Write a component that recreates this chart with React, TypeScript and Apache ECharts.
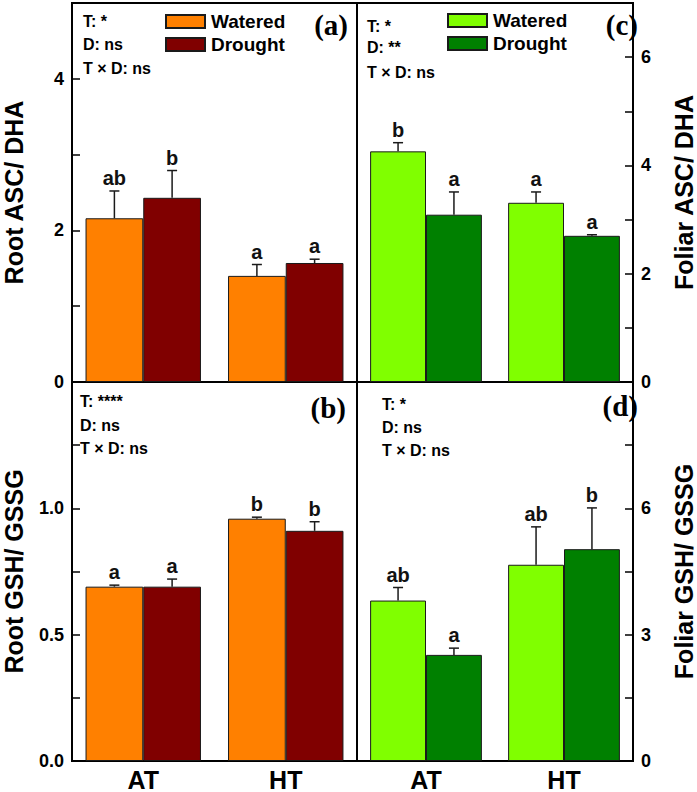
import React, { useEffect, useRef } from 'react';
import * as echarts from 'echarts';

const categories = ['AT', 'HT'];

const rootAscWatered = [2.16, 1.4];
const rootAscWateredErr = [0.36, 0.15];
const rootAscWateredLetters = ['ab', 'a'];
const rootAscDrought = [2.43, 1.57];
const rootAscDroughtErr = [0.36, 0.05];
const rootAscDroughtLetters = ['b', 'a'];

const foliarAscWatered = [4.26, 3.31];
const foliarAscWateredErr = [0.16, 0.2];
const foliarAscWateredLetters = ['b', 'a'];
const foliarAscDrought = [3.09, 2.7];
const foliarAscDroughtErr = [0.42, 0.02];
const foliarAscDroughtLetters = ['a', 'a'];

const rootGshWatered = [0.69, 0.959];
const rootGshWateredErr = [0.006, 0.006];
const rootGshWateredLetters = ['a', 'b'];
const rootGshDrought = [0.69, 0.911];
const rootGshDroughtErr = [0.03, 0.036];
const rootGshDroughtLetters = ['a', 'b'];

const foliarGshWatered = [3.81, 4.66];
const foliarGshWateredErr = [0.31, 0.9];
const foliarGshWateredLetters = ['ab', 'ab'];
const foliarGshDrought = [2.52, 5.03];
const foliarGshDroughtErr = [0.16, 0.98];
const foliarGshDroughtLetters = ['a', 'b'];

const statsA = ['T: *', 'D: ns', 'T \u00d7 D: ns'];
const statsB = ['T: ****', 'D: ns', 'T \u00d7 D: ns'];
const statsC = ['T: *', 'D: **', 'T \u00d7 D: ns'];
const statsD = ['T: *', 'D: ns', 'T \u00d7 D: ns'];

const SANS = "'Liberation Sans', Arial, Helvetica, sans-serif";
const SERIF = "'Liberation Serif', 'Times New Roman', serif";
const CAT_GAP = 0.19;

const App: React.FC = () => {
  const ref = useRef<HTMLDivElement>(null);

  useEffect(() => {
    document.body.style.margin = '0';
    if (!ref.current) return;
    const chart = echarts.init(ref.current, undefined, { renderer: 'svg' });

    const grids = [
      { left: 70, top: 3, width: 287, height: 379 },
      { left: 357, top: 3, width: 289, height: 379 },
      { left: 70, top: 382, width: 287, height: 380 },
      { left: 357, top: 382, width: 289, height: 380 },
    ].map((g) => ({ ...g, show: true, borderColor: '#000', borderWidth: 2, backgroundColor: '#fff' }));

    const xAxes = grids.map((_, i) => ({
      type: 'category',
      gridIndex: i,
      data: categories,
      axisLine: { show: true, lineStyle: { color: '#000', width: 2 } },
      axisTick: { show: false },
      axisLabel: {
        show: i >= 2,
        margin: 6,
        color: '#000',
        fontWeight: 'bold',
        fontSize: 25,
        fontFamily: SANS,
      },
    }));

    const yBase = (i: number, pos: string, min: number, max: number, interval: number, name: string, fmt: (v: number) => string, gap: number) => ({
      type: 'value',
      gridIndex: i,
      position: pos,
      min,
      max,
      interval,
      name,
      nameLocation: 'middle',
      nameRotate: 90,
      nameGap: gap,
      nameTextStyle: { color: '#000', fontWeight: 'bold', fontSize: 25, fontFamily: SANS },
      splitLine: { show: false },
      axisLine: { show: true, lineStyle: { color: '#000', width: 2 } },
      axisTick: { show: true, inside: true, length: 8, lineStyle: { color: '#000', width: 1.5 } },
      axisLabel: {
        formatter: fmt,
        margin: 8,
        color: '#000',
        fontWeight: 'bold',
        fontSize: 18,
        fontFamily: SANS,
      },
    });

    const near = (a: number, b: number) => Math.abs(a - b) < 1e-6;
    const yAxes = [
      yBase(0, 'left', 0, 5, 1, 'Root ASC/ DHA', (v) => (v % 2 === 0 && v < 5 ? String(v) : ''), 46),
      yBase(1, 'right', 0, 7, 1, 'Foliar ASC/ DHA', (v) => (v % 2 === 0 && v < 7 ? String(v) : ''), 38),
      yBase(2, 'left', 0, 1.5, 0.25, 'Root GSH/ GSSG', (v) => (near(v * 2, Math.round(v * 2)) && v < 1.5 ? v.toFixed(1) : ''), 46),
      yBase(3, 'right', 0, 9, 1.5, 'Foliar GSH/ GSSG', (v) => (near(v % 3, 0) && v < 9 ? String(v) : ''), 38),
    ];

    const bar = (gi: number, name: string, data: number[], color: string) => ({
      type: 'bar',
      name,
      xAxisIndex: gi,
      yAxisIndex: gi,
      data,
      barGap: '0%',
      barCategoryGap: `${CAT_GAP * 100}%`,
      itemStyle: { color, borderColor: '#1a1a1a', borderWidth: 1 },
      z: 2,
    });

    const err = (gi: number, vals: number[], errs: number[], letters: string[], side: number) => ({
      type: 'custom',
      xAxisIndex: gi,
      yAxisIndex: gi,
      z: 5,
      silent: true,
      data: vals.map((v, i) => [i, v, errs[i]]),
      encode: { x: 0, y: 1 },
      renderItem: (params: any, api: any) => {
        const ci = api.value(0);
        const v = api.value(1);
        const e = api.value(2);
        const band = api.size([1, 0])[0];
        const off = (side * band * (1 - CAT_GAP)) / 4;
        const p0 = api.coord([ci, v]);
        const p1 = api.coord([ci, v + e]);
        const x = p0[0] + off;
        const stroke = { stroke: '#1a1a1a', lineWidth: 1.5 };
        return {
          type: 'group',
          children: [
            { type: 'line', shape: { x1: x, y1: p0[1], x2: x, y2: p1[1] }, style: stroke },
            { type: 'line', shape: { x1: x - 5, y1: p1[1], x2: x + 5, y2: p1[1] }, style: stroke },
            {
              type: 'text',
              x,
              y: p1[1] - 3,
              style: {
                text: letters[params.dataIndex],
                align: 'center',
                verticalAlign: 'bottom',
                font: `bold 20px ${SANS}`,
                fill: '#111',
              },
            },
          ],
        };
      },
    });

    const series = [
      bar(0, 'Root Watered', rootAscWatered, '#FF8000'),
      bar(0, 'Root Drought', rootAscDrought, '#800000'),
      err(0, rootAscWatered, rootAscWateredErr, rootAscWateredLetters, -1),
      err(0, rootAscDrought, rootAscDroughtErr, rootAscDroughtLetters, 1),
      bar(1, 'Foliar Watered', foliarAscWatered, '#80FF00'),
      bar(1, 'Foliar Drought', foliarAscDrought, '#008000'),
      err(1, foliarAscWatered, foliarAscWateredErr, foliarAscWateredLetters, -1),
      err(1, foliarAscDrought, foliarAscDroughtErr, foliarAscDroughtLetters, 1),
      bar(2, 'Root Watered', rootGshWatered, '#FF8000'),
      bar(2, 'Root Drought', rootGshDrought, '#800000'),
      err(2, rootGshWatered, rootGshWateredErr, rootGshWateredLetters, -1),
      err(2, rootGshDrought, rootGshDroughtErr, rootGshDroughtLetters, 1),
      bar(3, 'Foliar Watered', foliarGshWatered, '#80FF00'),
      bar(3, 'Foliar Drought', foliarGshDrought, '#008000'),
      err(3, foliarGshWatered, foliarGshWateredErr, foliarGshWateredLetters, -1),
      err(3, foliarGshDrought, foliarGshDroughtErr, foliarGshDroughtLetters, 1),
    ];

    const legendBase = {
      orient: 'vertical',
      itemWidth: 39,
      itemHeight: 13,
      itemGap: 4,
      padding: 0,
      icon: 'rect',
      selectedMode: false,
      formatter: (n: string) => n.replace(/^(Root|Foliar) /, ''),
      textStyle: { color: '#000', fontWeight: 'bold', fontSize: 19, fontFamily: SANS, padding: [0, 0, 0, 1] },
    };
    const legends = [
      { ...legendBase, data: ['Root Watered', 'Root Drought'], left: 165, top: 12 },
      { ...legendBase, data: ['Foliar Watered', 'Foliar Drought'], left: 447, top: 11 },
    ];

    const statText = (lines: string[], x: number, ys: number[]) =>
      lines.map((t, i) => ({
        type: 'text',
        x,
        y: ys[i],
        z: 10,
        style: { text: t, font: `bold 16px ${SANS}`, fill: '#000', align: 'left', verticalAlign: 'middle' },
      }));
    const panelTag = (t: string, x: number, y: number) => ({
      type: 'text',
      x,
      y,
      z: 10,
      style: { text: t, font: `bold 29px ${SERIF}`, fill: '#000', align: 'right', verticalAlign: 'middle' },
    });

    const graphic = [
      ...statText(statsA, 83, [21, 44, 68]),
      ...statText(statsC, 367, [26, 47, 72]),
      ...statText(statsB, 80, [401, 425, 448]),
      ...statText(statsD, 382, [404, 427, 450]),
      panelTag('(a)', 348, 25),
      panelTag('(c)', 638, 25),
      panelTag('(b)', 346, 408),
      panelTag('(d)', 638, 406),
    ];

    chart.setOption({
      animation: false,
      backgroundColor: '#fff',
      grid: grids,
      xAxis: xAxes,
      yAxis: yAxes,
      legend: legends,
      series,
      graphic,
    } as any);

    return () => chart.dispose();
  }, []);

  return <div ref={ref} style={{ width: 697, height: 792 }} />;
};

export default App;
